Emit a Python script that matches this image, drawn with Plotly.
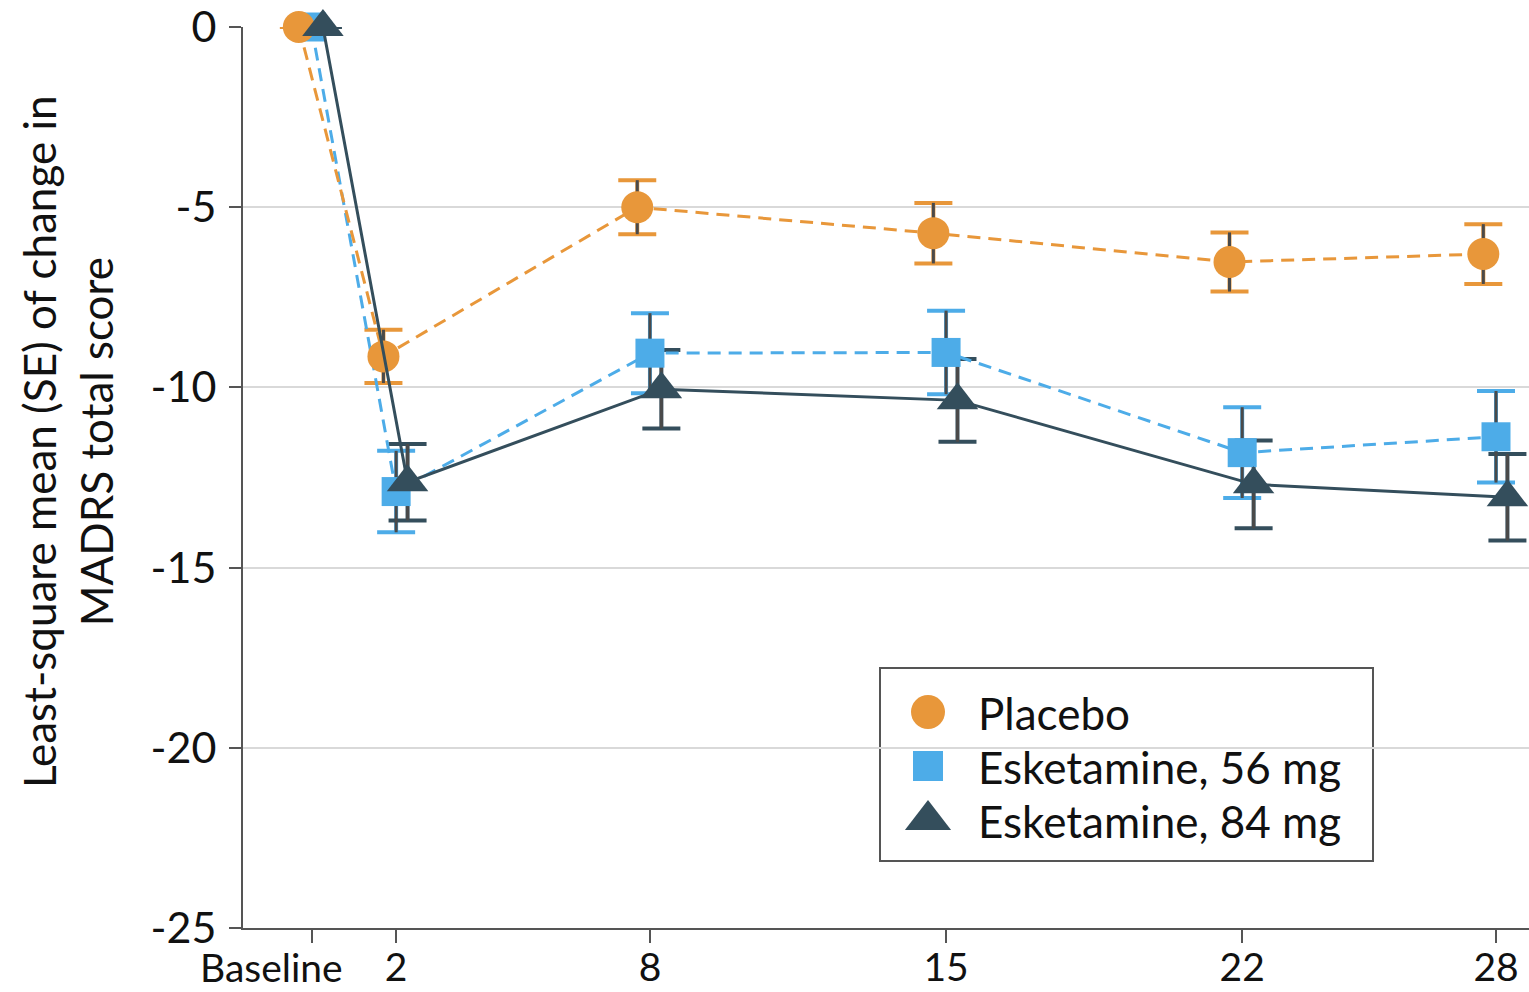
import plotly.graph_objects as go

# Study visits (days) and their axis labels
days = [0, 2, 8, 15, 22, 28]
day_labels = ["Baseline", "2", "8", "15", "22", "28"]

# Least-square mean change in MADRS total score, with standard errors
placebo_mean = [0.0, -9.14, -5.0, -5.72, -6.52, -6.30]
placebo_se = [None, 0.74, 0.75, 0.84, 0.82, 0.83]

esk56_mean = [0.0, -12.89, -9.05, -9.03, -11.81, -11.37]
esk56_se = [None, 1.13, 1.11, 1.16, 1.26, 1.27]

esk84_mean = [0.0, -12.63, -10.05, -10.36, -12.69, -13.05]
esk84_se = [None, 1.06, 1.09, 1.15, 1.22, 1.20]

y_ticks = [0, -5, -10, -15, -20, -25]
y_tick_labels = ["0", "-5", "-10", "-15", "-20", "-25"]

ORANGE = "#E8973A"
BLUE = "#4DACE8"
DARK = "#344E5C"
STEM = "#4a4a4a"

TICK_FONT = "Lato, 'Open Sans', sans-serif"
TICK_SIZE = 39

placebo = dict(name="Placebo", mean=placebo_mean, se=placebo_se, color=ORANGE,
               symbol="circle", size=32, dash="13px,8px", shift=-0.30)
esk56 = dict(name="Esketamine, 56 mg", mean=esk56_mean, se=esk56_se, color=BLUE,
             symbol="square", size=29, dash="13px,8px", shift=0.0)
esk84 = dict(name="Esketamine, 84 mg", mean=esk84_mean, se=esk84_se, color=DARK,
             symbol="triangle-up", size=36, dash="solid", shift=0.27)
series = [placebo, esk56, esk84]

fig = go.Figure()

# error bars: coloured caps first, then grey stems drawn over them
for s in series:
    xs = [d + s["shift"] for d in days]
    fig.add_trace(go.Scatter(
        x=xs, y=s["mean"], mode="markers", marker=dict(size=1, opacity=0),
        error_y=dict(type="data", array=s["se"], color=s["color"],
                     thickness=4, width=19),
        showlegend=False, hoverinfo="skip", cliponaxis=False))
for s in series:
    xs = [d + s["shift"] for d in days]
    fig.add_trace(go.Scatter(
        x=xs, y=s["mean"], mode="markers", marker=dict(size=1, opacity=0),
        error_y=dict(type="data", array=s["se"], color=STEM,
                     thickness=3, width=0),
        showlegend=False, hoverinfo="skip", cliponaxis=False))

# mean trajectories (56 mg underneath so its baseline point sits behind)
for s in [esk56, placebo, esk84]:
    xs = [d + s["shift"] for d in days]
    fig.add_trace(go.Scatter(
        x=xs, y=s["mean"], mode="lines+markers", name=s["name"],
        line=dict(color=s["color"], width=3, dash=s["dash"]),
        marker=dict(symbol=s["symbol"], size=s["size"], color=s["color"],
                    line=dict(width=0)),
        showlegend=False, cliponaxis=False))

# plot-area geometry in pixels (used for the key and the axis title)
L, R, T, B = 243, 1529, 27, 928


def px(xp):
    return (xp - L) / (R - L)


def py(yp):
    return (B - yp) / (B - T)


# boxed key with large symbols
fig.add_shape(type="rect", xref="paper", yref="paper", layer="between",
              x0=px(880), x1=px(1373), y0=py(861), y1=py(668),
              line=dict(color="#555555", width=2), fillcolor="white")
key_rows = [712, 766, 820]
key_sizes = [34, 30, 40]
for s, row, ks in zip(series, key_rows, key_sizes):
    fig.add_trace(go.Scatter(
        x=[px(928)], y=[py(row)], xaxis="x2", yaxis="y2", mode="markers",
        marker=dict(symbol=s["symbol"], size=ks, color=s["color"],
                    line=dict(width=0)),
        showlegend=False, hoverinfo="skip", cliponaxis=False))
    fig.add_annotation(x=px(976), y=py(row + 1), xref="paper", yref="paper",
                       text=s["name"], showarrow=False, xanchor="left",
                       yanchor="middle",
                       font=dict(family=TICK_FONT, size=44, color="#111111"))

# y-axis title as a rotated two-line label
fig.add_annotation(x=px(67), y=py(442), xref="paper", yref="paper",
                   text="Least-square mean (SE) of change in<br>MADRS total score",
                   textangle=-90, showarrow=False, xanchor="center",
                   yanchor="middle",
                   font=dict(family=TICK_FONT, size=44, color="#111111"))

# the baseline label sits left of its tick so it clears the day-2 label
fig.add_annotation(x=days[0], y=0, xref="x", yref="paper",
                   text=day_labels[0], showarrow=False,
                   xanchor="right", yanchor="top", xshift=33, yshift=-14,
                   font=dict(family=TICK_FONT, size=TICK_SIZE, color="#111111"))

fig.update_layout(
    width=1529, height=992,
    margin=dict(l=L, r=1529 - R, t=T, b=992 - B),
    paper_bgcolor="white", plot_bgcolor="white",
    showlegend=False,
    xaxis=dict(
        range=[-1.62, 28.78], tickvals=days, ticktext=[""] + day_labels[1:],
        tickangle=0, automargin=False,
        showgrid=False, zeroline=False, showline=True,
        linecolor="#555555", linewidth=2,
        ticks="outside", ticklen=13, tickwidth=2, tickcolor="#555555",
        tickfont=dict(family=TICK_FONT, size=TICK_SIZE, color="#111111"),
        ticklabelstandoff=-9,
    ),
    yaxis=dict(
        range=[-25, 0], tickvals=y_ticks, ticktext=y_tick_labels,
        automargin=False,
        showgrid=True, gridcolor="#d9d9d9", gridwidth=2,
        zeroline=False, showline=True, linecolor="#555555", linewidth=2,
        ticks="outside", ticklen=12, tickwidth=2, tickcolor="#555555",
        tickfont=dict(family=TICK_FONT, size=43, color="#111111"),
        ticklabelstandoff=4,
    ),
    xaxis2=dict(range=[0, 1], overlaying="x", visible=False, fixedrange=True),
    yaxis2=dict(range=[0, 1], overlaying="y", visible=False, fixedrange=True),
)

fig.write_html("out.html")
